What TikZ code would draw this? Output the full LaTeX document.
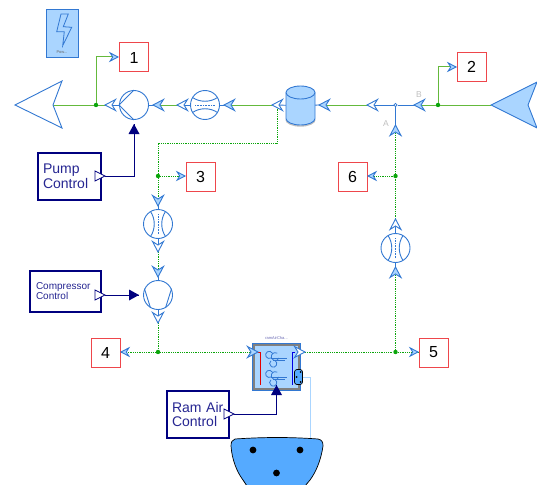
\documentclass[tikz,border=0pt]{standalone}
\usepackage{fontspec}
\setmainfont{Liberation Sans}
\usetikzlibrary{positioning}
\definecolor{portblue}{RGB}{50,120,210}
\definecolor{portfill}{RGB}{170,213,255}
\definecolor{flowgreen}{RGB}{100,185,60}
\definecolor{dotgreen}{RGB}{10,165,10}
\definecolor{ctlnavy}{RGB}{0,0,127}
\definecolor{boxred}{RGB}{238,70,75}
\definecolor{plugblue}{RGB}{85,170,255}
\tikzset{
	flowline/.style={draw=flowgreen, line width=1pt},
	dotline/.style={draw=dotgreen, line width=0.8pt, densely dotted},
	stubline/.style={draw=portblue, line width=0.9pt},
	ctlline/.style={draw=ctlnavy, line width=1pt},
	junction/.style={circle, fill=dotgreen, inner sep=0pt, minimum size=4.4pt},
	numbox/.style={draw=boxred, fill=white, line width=1pt, minimum size=29pt, inner sep=0pt, font=\fontsize{16}{16}\selectfont},
	ctlbox/.style={draw=ctlnavy, fill=white, line width=1.2pt, inner sep=0pt, align=left, text=ctlnavy!85!white},
	roundpart/.style={circle, draw=portblue, fill=white, line width=0.9pt, minimum size=29pt, inner sep=0pt},
	flowport/.pic={\path[draw=portblue, line width=0.9pt, pic actions] (0,0) -- (10.5,-5.5) -- (7,0) -- (10.5,5.5) -- cycle;},
	ctlin/.pic={\path[fill=ctlnavy] (0,0) -- (10,-5.5) -- (10,5.5) -- cycle;},
	ctlout/.pic={\path[draw=ctlnavy, fill=white, line width=0.8pt] (0,-5) -- (10,0) -- (0,5) -- cycle;},
	meter/.pic={
		\draw[portblue, line width=0.9pt] (-12.5,-7.5) .. controls (-5,-2.5) and (5,-2.5) .. (12.5,-7.5);
		\draw[portblue, line width=0.9pt] (-12.5,7.5) .. controls (-5,2.5) and (5,2.5) .. (12.5,7.5);
		\draw[portblue, line width=0.6pt, densely dotted] (-10,0) -- (10,0);
	},
	fan/.pic={
		\draw[portblue, line width=0.8pt] (1,0) -- (17,0);
		\draw[portblue, line width=0.8pt] (3,2.5) -- (15,2.5);
		\draw[portblue, line width=0.8pt] (1,0) arc[start angle=60, end angle=330, radius=3.6];
		\draw[portblue, line width=0.8pt] (9,0) arc[start angle=20, end angle=300, radius=4] ;
		\draw[portblue, line width=0.8pt] (5,2.5) arc[start angle=-60, end angle=230, radius=3.6];
	}
}
\begin{document}
\begin{tikzpicture}[x=1pt, y=-1pt]
	\useasboundingbox (0,0) rectangle (537,484);

	\coordinate (sinkPort) at (53,105);
	\coordinate (pumpOut) at (105,105);
	\coordinate (pumpIn) at (153,105);
	\coordinate (meterOut) at (177,105);
	\coordinate (meterIn) at (224,105);
	\coordinate (tankOut) at (272,105);
	\coordinate (tankTap) at (277,105);
	\coordinate (tankIn) at (319,105);
	\coordinate (teeOut) at (367,105);
	\coordinate (teeB) at (414,105);
	\coordinate (sourcePort) at (491,105);
	\coordinate (teeA) at (395.5,125);
	\coordinate (meterRightOut) at (395.5,219);
	\coordinate (meterRightIn) at (395.5,267);
	\coordinate (meterDownIn) at (158,206);
	\coordinate (meterDownOut) at (158,252);
	\coordinate (compIn) at (158,277);
	\coordinate (compOut) at (158,323);
	\coordinate (coolerIn) at (258,352);
	\coordinate (coolerOut) at (305,352);
	\coordinate (bendTank) at (277,143);
	\coordinate (bendPump) at (158,143);
	\coordinate (port1) at (118,57);
	\coordinate (port2) at (456,67);
	\coordinate (port3) at (185,176);
	\coordinate (port4) at (121,352);
	\coordinate (port5) at (418,352);
	\coordinate (port6) at (368,176);

	\node[roundpart] (pump) at (134,105) {};
	\node[roundpart] (meterA) at (205,105) {};
	\node[roundpart] (meterB) at (158,224) {};
	\node[roundpart] (meterC) at (395.5,248) {};
	\node[roundpart] (comp) at (158,295) {};
	\node[inner sep=0pt, minimum width=29pt, minimum height=39pt] (tank) at (300.5,105.5) {};
	\node[circle, draw=portblue, fill=white, line width=0.8pt, inner sep=0pt, minimum size=3.2pt] (tee) at (395.5,105) {};

	\node[junction] (nodeA) at (96,105) {};
	\node[junction] (nodeB) at (438,105) {};
	\node[junction] (nodeC) at (158,176) {};
	\node[junction] (nodeD) at (395.5,176) {};
	\node[junction] (nodeE) at (158,352) {};
	\node[junction] (nodeF) at (395.5,352) {};

	\node[numbox] (out1) at (134,57.5) {1};
	\node[numbox] (out2) at (471.5,67) {2};
	\node[numbox] (out3) at (200.5,176.5) {3};
	\node[numbox] (out4) at (105.5,352.5) {4};
	\node[numbox] (out5) at (433.5,352.5) {5};
	\node[numbox] (out6) at (352.5,176.5) {6};

	\node[ctlbox, minimum width=63pt, minimum height=47pt, font=\fontsize{14}{14.5}\selectfont, text width=53pt] (pumpCtl) at (69.5,176.5) {Pump\\Control};
	\node[ctlbox, minimum width=71pt, minimum height=41pt, font=\fontsize{10}{10}\selectfont, text width=59pt] (compCtl) at (65.5,291.5) {Compressor\\Control};
	\node[ctlbox, minimum width=62pt, minimum height=47pt, font=\fontsize{14}{14.5}\selectfont, text width=52pt] (ramCtl) at (198,414.5) {Ram Air\\Control};

	\draw[flowline] (sinkPort) -- (nodeA);
	\draw[flowline] (nodeA) -- (pumpOut);
	\draw[stubline] (pumpOut) -- (pump);
	\draw[stubline] (pump) -- (pumpIn);
	\draw[flowline] (pumpIn) -- (meterOut);
	\draw[stubline] (meterOut) -- (meterA);
	\draw[stubline] (meterA) -- (meterIn);
	\draw[flowline] (meterIn) -- (tankOut);
	\draw[stubline] (tankOut) -- (tank);
	\draw[stubline] (tank) -- (tankIn);
	\draw[flowline] (tankIn) -- (teeOut);
	\draw[stubline] (teeOut) -- (tee);
	\draw[stubline] (tee) -- (teeB);
	\draw[flowline] (teeB) -- (nodeB);
	\draw[flowline] (nodeB) -- (sourcePort);
	\draw[stubline] (tee) -- (teeA);
	\draw[flowline] (nodeA) |- (port1);
	\draw[flowline] (nodeB) |- (port2);

	\draw[dotline] (tankTap) -- (bendTank) -- (bendPump) -- (nodeC);
	\draw[dotline] (nodeC) -- (port3);
	\draw[dotline] (nodeC) -- (meterDownIn);
	\draw[stubline] (meterDownIn) -- (meterB);
	\draw[stubline] (meterB) -- (meterDownOut);
	\draw[dotline] (meterDownOut) -- (compIn);
	\draw[stubline] (compIn) -- (comp);
	\draw[stubline] (comp) -- (compOut);
	\draw[dotline] (compOut) -- (nodeE);
	\draw[dotline] (nodeE) -- (port4);
	\draw[dotline] (nodeE) -- (coolerIn);
	\draw[dotline] (coolerOut) -- (nodeF);
	\draw[dotline] (nodeF) -- (port5);
	\draw[dotline] (nodeF) -- (meterRightIn);
	\draw[stubline] (meterRightIn) -- (meterC);
	\draw[stubline] (meterC) -- (meterRightOut);
	\draw[dotline] (meterRightOut) -- (nodeD);
	\draw[dotline] (nodeD) -- (teeA);
	\draw[dotline] (nodeD) -- (port6);

	\draw[portblue, line width=0.9pt] (pump.west) -- (pump.north) (pump.west) -- (pump.south);
	\draw[portblue, line width=0.9pt] (comp.155) -- (comp.240) (comp.25) -- (comp.300);
	\pic at (meterA) {meter};
	\pic[rotate=90] at (meterB) {meter};
	\pic[rotate=90] at (meterC) {meter};

	\path[draw=black!25, line width=1.4pt] (286,119.5) arc[start angle=180, end angle=0, x radius=14.5, y radius=6.5];
	\path[draw=portblue, fill=portfill, line width=0.9pt] (286,92.5) -- (286,118.5) arc[start angle=180, end angle=0, x radius=14.5, y radius=6.5] -- (315,92.5) arc[start angle=0, end angle=-180, x radius=14.5, y radius=6.5] -- cycle;
	\draw[portblue, line width=0.9pt] (286,92.5) arc[start angle=180, end angle=0, x radius=14.5, y radius=6.5];

	\path[draw=portblue, fill=white, line width=0.9pt] (15,105) -- (62,81) -- (sinkPort) -- (62,128) -- cycle;
	\path[draw=portblue, fill=portfill, line width=0.9pt] (sourcePort) -- (537,82) -- (528,105) -- (537,128) -- cycle;

	\pic[fill=white] at (pumpOut) {flowport};
	\pic[fill=portfill] at (pumpIn) {flowport};
	\pic[fill=white] at (meterOut) {flowport};
	\pic[fill=portfill] at (meterIn) {flowport};
	\pic[fill=white] at (tankOut) {flowport};
	\pic[fill=portfill] at (tankIn) {flowport};
	\pic[fill=white] at (teeOut) {flowport};
	\pic[fill=portfill] at (teeB) {flowport};
	\pic[fill=portfill, rotate=-90] at (teeA) {flowport};
	\pic[fill=white, rotate=-90] at (meterRightOut) {flowport};
	\pic[fill=portfill, rotate=-90] at (meterRightIn) {flowport};
	\pic[fill=portfill, rotate=90] at (meterDownIn) {flowport};
	\pic[fill=white, rotate=90] at (meterDownOut) {flowport};
	\pic[fill=portfill, rotate=90] at (compIn) {flowport};
	\pic[fill=white, rotate=90] at (compOut) {flowport};
	\pic[fill=portfill, rotate=180, scale=0.75] at (port1) {flowport};
	\pic[fill=portfill, rotate=180, scale=0.75] at (port2) {flowport};
	\pic[fill=portfill, rotate=180, scale=0.75] at (port3) {flowport};
	\pic[fill=portfill, scale=0.75] at (port4) {flowport};
	\pic[fill=portfill, rotate=180, scale=0.75] at (port5) {flowport};
	\pic[fill=portfill, scale=0.75] at (port6) {flowport};

	\node[text=black!25, font=\fontsize{8.5}{8.5}\selectfont] (labelA) at (386,124) {A};
	\node[text=black!25, font=\fontsize{8.5}{8.5}\selectfont] (labelB) at (419,95) {B};

	\node[draw=portblue, fill=portfill, line width=0.9pt, inner sep=0pt, minimum width=32pt, minimum height=47.5pt] (powerIcon) at (62.5,33.3) {};
	\draw[portblue, line width=0.8pt] (61,14) -- (68.3,14) -- (63.3,26.7) -- (71.7,27.3) -- (62.7,45.7) -- (64.3,31.7) -- (56.7,31.7) -- cycle;
	\node[text=black!60, font=\fontsize{4}{4}\selectfont, inner sep=0pt] (powerText) at (62,52) {Pow...};

	\node[draw=black!50, fill=portfill, line width=2.2pt, inner sep=0pt, minimum width=46pt, minimum height=45pt] (cooler) at (276.5,367) {};
	\draw[portblue, line width=0.8pt] (cooler.north west) rectangle (cooler.south east);
	\node[text=ctlnavy!60!white, font=\fontsize{4}{4}\selectfont, inner sep=0pt] (coolerText) at (276.5,338) {ramAirCha...};
	\draw[red!90!black, line width=1pt] (coolerIn) -- (260,352) -- (260,385);
	\draw[blue!90!black, line width=1pt] (295,352) -- (292.5,352) -- (292.5,385);
	\pic at (270,358) {fan};
	\pic at (270,377) {fan};
	\path[draw=portblue, fill=portfill, line width=0.9pt] (coolerIn) -- (247.5,346.5) -- (251,352) -- (247.5,357.5) -- cycle;
	\path[draw=portblue, fill=white, line width=0.9pt] (coolerOut) -- (294.5,346.5) -- (298,352) -- (294.5,357.5) -- cycle;

	\node[draw=black, fill=plugblue, line width=0.7pt, rounded corners=2.5pt, inner sep=0pt, minimum width=8pt, minimum height=15pt] (plug) at (298.5,377) {};
	\fill (300.5,372) circle (1pt) (300.5,382) circle (1pt) (296.5,377) circle (1pt);

	\coordinate (busBend) at (310,377);
	\coordinate (busEnd) at (310,438);
	\draw[draw=portfill, line width=1pt] (plug) -- (busBend) -- (busEnd);

	\draw[draw=black, fill=plugblue, line width=0.7pt] (235,439) .. controls (265,437) and (290,437) .. (318,439) .. controls (322,440) and (323,442) .. (323,446) .. controls (321,460) and (316,472) .. (310,480) -- (305,486) -- (247,486) -- (243,480) .. controls (237,472) and (232,460) .. (231,446) .. controls (231,442) and (232,440) .. (235,439) -- cycle;
	\fill (253,450) circle (3.4pt) (300,450) circle (3.4pt) (276.5,473) circle (3.4pt);

	\coordinate (ctlPumpOut) at (105,176);
	\coordinate (ctlPumpIn) at (134,124);
	\coordinate (ctlCompOut) at (105,295);
	\coordinate (ctlCompIn) at (139,295);
	\coordinate (ctlRamOut) at (234,414);
	\coordinate (ctlRamIn) at (276.5,385);
	\draw[ctlline] (ctlPumpOut) -| (ctlPumpIn);
	\draw[ctlline] (ctlCompOut) -- (ctlCompIn);
	\draw[ctlline] (ctlRamOut) -| (ctlRamIn);
	\pic[rotate=-90] at (ctlPumpIn) {ctlin};
	\pic[rotate=180] at (ctlCompIn) {ctlin};
	\pic[rotate=-90] at (ctlRamIn) {ctlin};
	\pic at (95,176) {ctlout};
	\pic at (95,295) {ctlout};
	\pic at (224,414) {ctlout};
\end{tikzpicture}
\end{document}
